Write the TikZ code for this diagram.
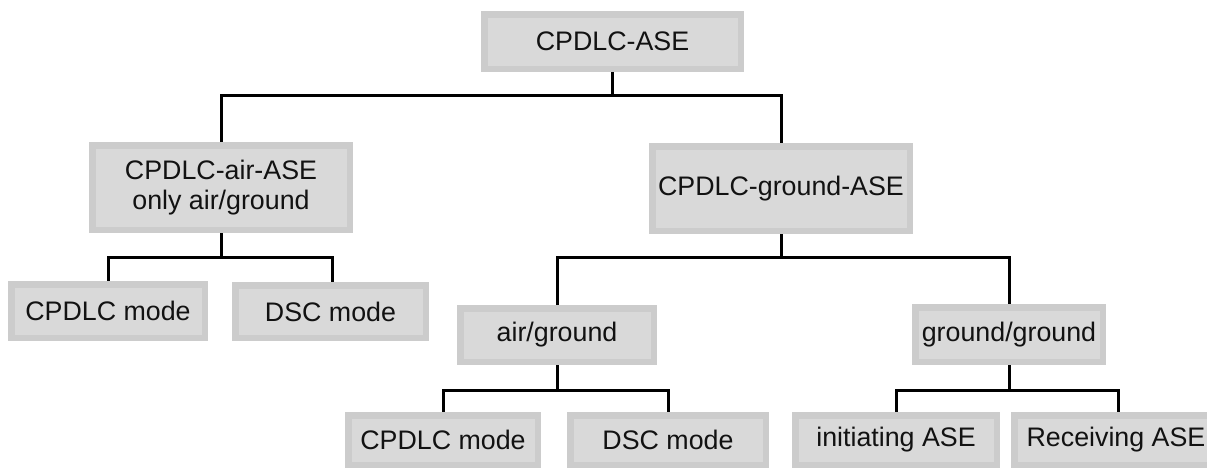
\documentclass[tikz,border=0pt]{standalone}
\usepackage{fontspec}
\setmainfont{Liberation Sans}
\begin{document}
\begin{tikzpicture}[x=1pt,y=-1pt,
  box/.style={draw=boxedge, fill=boxfill, line width=6.5pt, inner sep=0pt,
    minimum width=#1, align=center, text=black!93,
    font=\fontsize{26.8}{30}\selectfont},
  conn/.style={draw=black, line width=3pt}]
\definecolor{boxfill}{HTML}{D9D9D9}
\definecolor{boxedge}{HTML}{CCCCCC}
\useasboundingbox (0,0) rectangle (1207,467);

% tree nodes (centre, outer width - 6.5, outer height - 6.5)
\node[box=256.5pt, minimum height=54.5pt] (root) at (612.5,41.5) {CPDLC-ASE};
\node[box=257.5pt, minimum height=84.5pt] (air) at (221,187.5) {CPDLC-air-ASE\\only air/ground};
\node[box=257.5pt, minimum height=84.5pt] (gnd) at (781,188.5) {CPDLC-ground-ASE};
\node[box=193.5pt, minimum height=53.5pt] (acpdlc) at (108,311) {CPDLC mode};
\node[box=190.5pt, minimum height=52.5pt] (adsc) at (330.5,311.5) {DSC mode};
\node[box=193.5pt, minimum height=53.5pt] (ag) at (557,335) {air/ground};
\node[box=187.5pt, minimum height=54.5pt] (gg) at (1009,334.5) {ground/ground};
\node[box=189.5pt, minimum height=49.5pt] (gcpdlc) at (443,440) {CPDLC mode};
\node[box=195.5pt, minimum height=49.5pt] (gdsc) at (668,440) {DSC mode};
\node[box=201.5pt, minimum height=49.5pt] (init) at (896,440) {initiating ASE};
\node[box=203.5pt, minimum height=49.5pt] (recv) at (1116,440) {Receiving ASE};

% connectors
\draw[conn] (root.south) -- ++(0,23) -| (air.north);
\draw[conn] (root.south) -- ++(0,23) -| (gnd.north);
\draw[conn] (air.south) -- ++(0,24) -| (acpdlc.north);
\draw[conn] (air.south) -- ++(0,24) -| ([xshift=1.5pt]adsc.north);
\draw[conn] (gnd.south) -- ++(0,23) -| (ag.north);
\draw[conn] (gnd.south) -- ++(0,23) -| (gg.north);
\draw[conn] (ag.south) -- ++(0,25) -| (gcpdlc.north);
\draw[conn] (ag.south) -- ++(0,25) -| (gdsc.north);
\draw[conn] (gg.south) -- ++(0,25) -| (init.north);
\draw[conn] (gg.south) -- ++(0,25) -| ([xshift=2pt]recv.north);
\end{tikzpicture}
\end{document}
